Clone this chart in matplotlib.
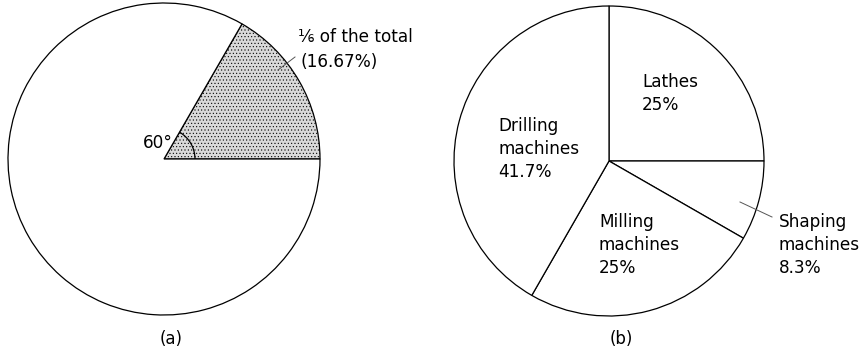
import matplotlib
matplotlib.use("Agg")
import matplotlib.pyplot as plt
from matplotlib.patches import Arc

# dati dei due grafici
quota_a = [1, 5]  # sesti: la fetta evidenziata e il resto
angolo_a = 60

nomi_b = ["Lathes", "Shaping\nmachines", "Milling\nmachines", "Drilling\nmachines"]
perc_b = [25, 8.3, 25, 41.7]

W, H = 861, 350

# puntinato leggero per la fetta evidenziata
plt.rcParams["hatch.color"] = "#a8a8a8"
plt.rcParams["hatch.linewidth"] = 0.4


def Y(py):
    # coordinate in pixel con l'origine in alto
    return H - py


fig = plt.figure(figsize=(W / 100, H / 100), dpi=100)
ax = fig.add_axes([0, 0, 1, 1])

# (a) torta con un sesto evidenziato
cx_a, cy_a, r_a = 164, Y(159), 156
wedges_a, _ = ax.pie(quota_a, startangle=0, counterclock=True,
                     center=(cx_a, cy_a), radius=r_a,
                     colors=["#d9d9d9", "white"],
                     wedgeprops=dict(edgecolor="black", linewidth=0.9))
wedges_a[0].set_hatch(".....")

ax.add_patch(Arc((cx_a, cy_a), 62, 62, theta1=0, theta2=angolo_a,
                 color="black", linewidth=0.9))
ax.text(173, Y(143), f"{angolo_a}°", ha="right", va="center", fontsize=12.2)
ax.plot([278, 295], [Y(70), Y(57)], color="#555555", linewidth=0.7)
ax.text(298, Y(37), "⅙ of the total", ha="left", va="center", fontsize=12.2)
ax.text(301, Y(62), f"({100 * quota_a[0] / sum(quota_a):.2f}%)",
        ha="left", va="center", fontsize=12.2)
ax.text(171, Y(339), "(a)", ha="center", va="center", fontsize=12)

# (b) torta delle macchine
cx_b, cy_b, r_b = 609, Y(161), 155
ax.pie(perc_b, startangle=90, counterclock=False,
       center=(cx_b, cy_b), radius=r_b, colors=["white"] * 4,
       wedgeprops=dict(edgecolor="black", linewidth=0.9))

pos_b = [(642, 82), (779, 222), (599, 222), (498, 126)]
for nome, p, (x, y) in zip(nomi_b, perc_b, pos_b):
    righe = nome.split("\n") + [f"{p:g}%"]
    for i, riga in enumerate(righe):
        ax.text(x, Y(y + 23 * i), riga, ha="left", va="center", fontsize=12.2)

ax.plot([740, 772], [Y(202), Y(217)], color="#555555", linewidth=0.7)
ax.text(621, Y(339), "(b)", ha="center", va="center", fontsize=12)

ax.set_xlim(0, W)
ax.set_ylim(0, H)
ax.set_aspect("equal")
ax.axis("off")

fig.savefig("out.png", dpi=100, facecolor="white")
